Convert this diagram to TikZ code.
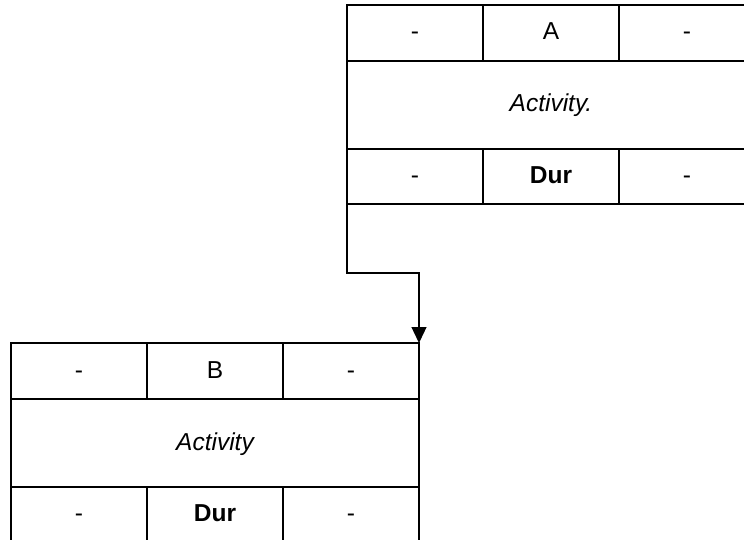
\documentclass[tikz,border=0pt]{standalone}
\usepackage{fontspec}
\setmainfont{Liberation Sans}
\usetikzlibrary{arrows.meta}
\newcommand\cellfont{\fontsize{24.5}{28}\selectfont}
\begin{document}
\begin{tikzpicture}[x=1pt,y=-1pt,
  cell/.style={draw,line width=1.3pt,inner sep=0pt,outer sep=0pt,minimum width=136pt,font=\cellfont,text height=17.5pt,text depth=3.5pt},
  shortrow/.style={cell,minimum height=56pt},
  midrow/.style={cell,minimum width=408pt,minimum height=88pt},
  botrow/.style={cell,minimum height=55pt},
  link/.style={line width=1.3pt,-{Triangle[length=16pt,width=15pt]}}]
\useasboundingbox (0,0) rectangle (744,540);
\clip (0,0) rectangle (744,540);
% Box A
\node[shortrow] (a1) at (415,33) {-};
\node[shortrow] (a2) at (551,33) {A};
\node[shortrow] (a3) at (687,33) {-};
\node[midrow] (a4) at (551,105) {\itshape Activity.};
\node[botrow] (a5) at (415,176.5) {-};
\node[botrow] (a6) at (551,176.5) {\bfseries Dur};
\node[botrow] (a7) at (687,176.5) {-};
% Box B
\node[shortrow] (b1) at (79,371) {-};
\node[shortrow] (b2) at (215,371) {B};
\node[shortrow] (b3) at (351,371) {-};
\node[midrow] (b4) at (215,443) {\itshape Activity};
\node[botrow] (b5) at (79,514.5) {-};
\node[botrow] (b6) at (215,514.5) {\bfseries Dur};
\node[botrow] (b7) at (351,514.5) {-};
% connector
\draw[link] (a5.south west) -- ++(0,69) -| (b3.north east);
\end{tikzpicture}
\end{document}
